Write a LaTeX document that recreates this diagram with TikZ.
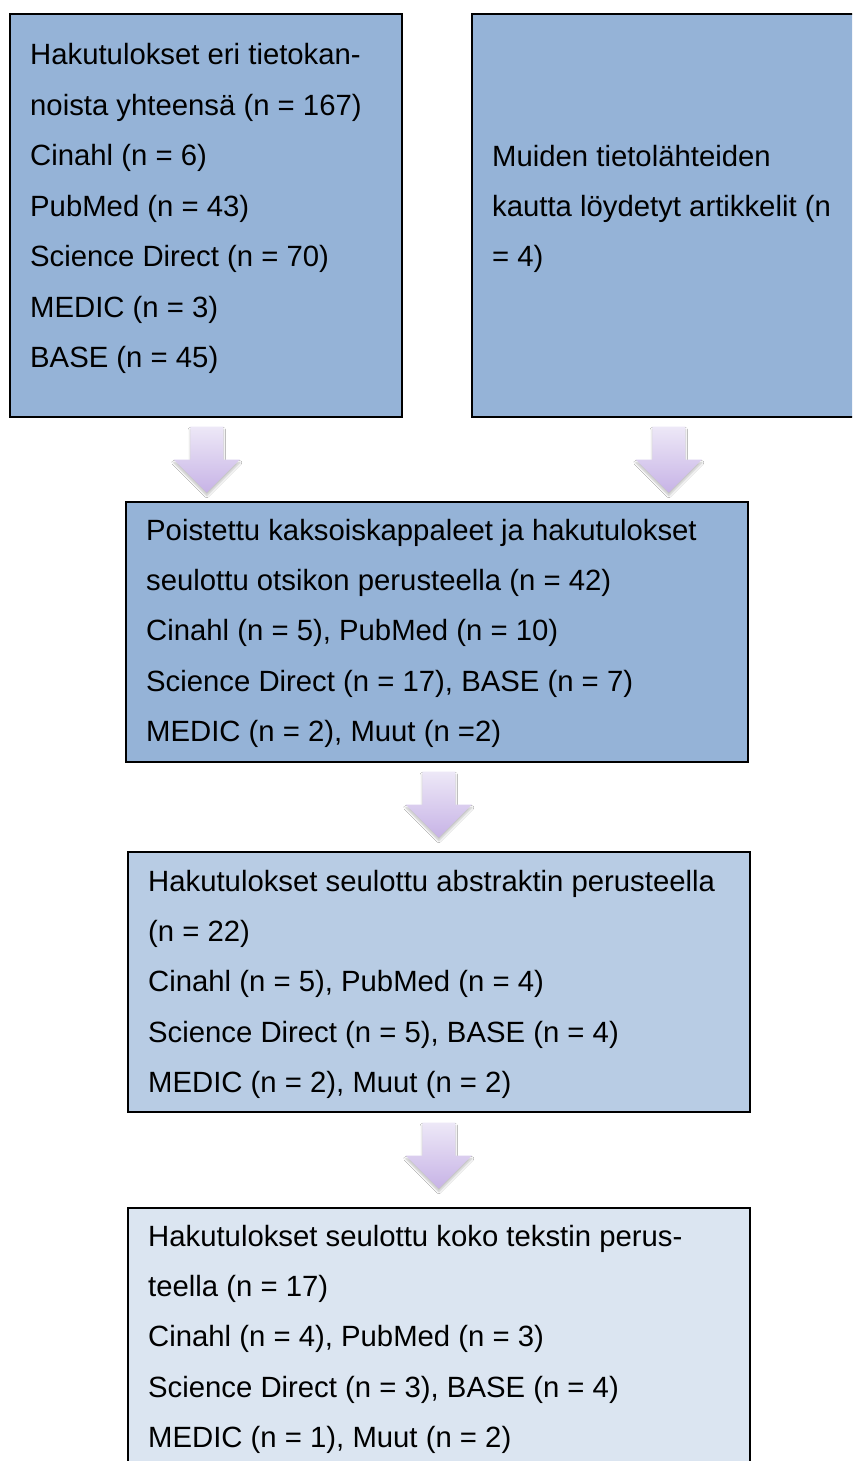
\documentclass[tikz,border=0pt]{standalone}
\usepackage{fontspec}
\setmainfont{Liberation Sans}
\usetikzlibrary{calc,shadows.blur}
\definecolor{boxA}{HTML}{95B3D7}
\definecolor{boxB}{HTML}{B8CCE4}
\definecolor{boxC}{HTML}{DBE5F1}
\definecolor{arrTop}{HTML}{EDE8F7}
\definecolor{arrBot}{HTML}{C7B3E6}
\tikzset{
  box/.style={draw=black, line width=1.6pt, anchor=north west, inner sep=0pt},
  txt/.style={anchor=base west, inner sep=0pt, font=\fontsize{29.3}{35}\selectfont},
  blockarrow/.style={top color=arrTop, bottom color=arrBot, draw=none,
    blur shadow={shadow xshift=0pt, shadow yshift=-3pt, shadow opacity=25, shadow blur steps=6}}
}
\newcommand{\blockarr}[1]{%
  \path[blockarrow] ($(#1)+(-16.5,0)$) -- ($(#1)+(16.5,0)$) -- ($(#1)+(16.5,33)$)
    -- ($(#1)+(33,33)$) -- ($(#1)+(0,66)$) -- ($(#1)+(-33,33)$)
    -- ($(#1)+(-16.5,33)$) -- cycle;}
\begin{document}
\begin{tikzpicture}[x=1pt,y=-1pt]
\clip (0,0) rectangle (852,1461);
\fill[white] (0,0) rectangle (852,1461);
% boxes
\node[box, fill=boxA, minimum width=392, minimum height=403] (b1) at (9,13) {};
\node[box, fill=boxA, minimum width=394, minimum height=403] (b2) at (471,13) {};
\node[box, fill=boxA, minimum width=622, minimum height=260] (b3) at (125,501) {};
\node[box, fill=boxB, minimum width=622, minimum height=260] (b4) at (127,851) {};
\node[box, fill=boxC, minimum width=622, minimum height=300] (b5) at (127,1207) {};
% texts
\foreach \t [count=\i from 0] in {{Hakutulokset eri tietokan-},{noista yhteensä (n = 167)},{Cinahl (n = 6)},{PubMed (n = 43)},{Science Direct (n = 70)},{MEDIC (n = 3)},{BASE (n = 45)}}
  \node[txt] (b1t\i) at (30,65+50.4*\i) {\t};
\foreach \t [count=\i from 0] in {{Muiden tietolähteiden},{kautta löydetyt artikkelit (n},{= 4)}}
  \node[txt] (b2t\i) at (492,166+50.4*\i) {\t};
\foreach \t [count=\i from 0] in {{Poistettu kaksoiskappaleet ja hakutulokset},{seulottu otsikon perusteella (n = 42)},{{Cinahl (n = 5), PubMed (n = 10)}},{{Science Direct (n = 17), BASE (n = 7)}},{{MEDIC (n = 2), Muut (n =2)}}}
  \node[txt] (b3t\i) at (146,540+50.4*\i) {\t};
\foreach \t [count=\i from 0] in {{Hakutulokset seulottu abstraktin perusteella},{(n = 22)},{{Cinahl (n = 5), PubMed (n = 4)}},{{Science Direct (n = 5), BASE (n = 4)}},{{MEDIC (n = 2), Muut (n = 2)}}}
  \node[txt] (b4t\i) at (148,891+50.4*\i) {\t};
\foreach \t [count=\i from 0] in {{Hakutulokset seulottu koko tekstin perus-},{teella (n = 17)},{{Cinahl (n = 4), PubMed (n = 3)}},{{Science Direct (n = 3), BASE (n = 4)}},{{MEDIC (n = 1), Muut (n = 2)}}}
  \node[txt] (b5t\i) at (148,1246+50.4*\i) {\t};
% arrows
\coordinate (a1) at ($(b1.south)+(1,9)$);
\coordinate (a2) at ($(b2.south)+(0,9)$);
\coordinate (a3) at ($(b3.south)+(2,9)$);
\coordinate (a4) at ($(b4.south)+(0,10)$);
\blockarr{a1}
\blockarr{a2}
\blockarr{a3}
\blockarr{a4}
\end{tikzpicture}
\end{document}
